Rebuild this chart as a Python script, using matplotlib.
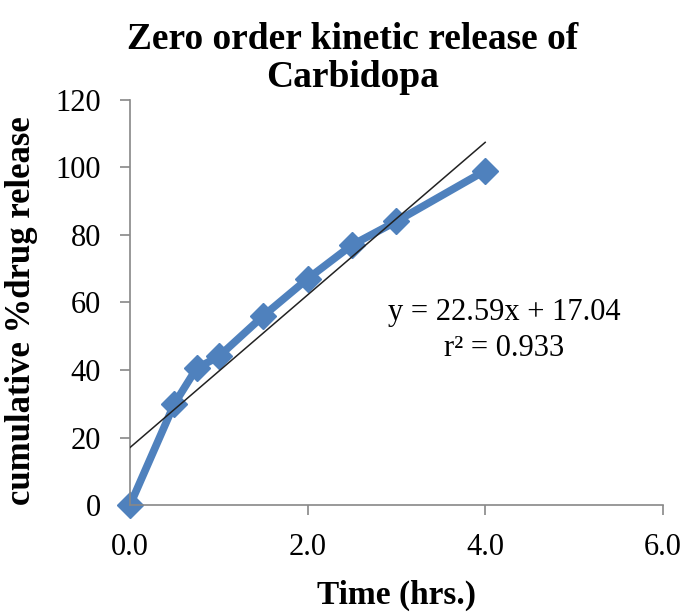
import matplotlib.pyplot as plt
import numpy as np

time_hrs = [0, 0.5, 0.75, 1.0, 1.5, 2.0, 2.5, 3.0, 4.0]
release = [0, 30, 40.5, 44, 56, 67, 77, 84, 99]
slope = 22.59
intercept = 17.04
r_squared = 0.933
x_ticks = [0, 2, 4, 6]
y_ticks = [0, 20, 40, 60, 80, 100, 120]

plt.rcParams["font.family"] = ["Liberation Serif", "DejaVu Serif"]

fig = plt.figure(figsize=(6.84, 6.16), dpi=100)
ax = fig.add_axes([0.19, 0.18, 0.779, 0.658])

ax.plot(time_hrs, release, color="#4F81BD", lw=5.5, marker="D", ms=13,
        markeredgecolor="#4F81BD", zorder=2, clip_on=False)

# linear trendline over the sampled range
fit_x = np.array([0, max(time_hrs)])
ax.plot(fit_x, slope * fit_x + intercept, color="#222222", lw=1.1, zorder=3)

ax.text(4.21, 57, f"y = {slope}x + {intercept}", fontsize=22, ha="center", va="center")
ax.text(4.21, 46.5, f"r² = {r_squared}", fontsize=22, ha="center", va="center")

ax.set_xlim(0, 6)
ax.set_ylim(0, 120)
ax.set_xticks(x_ticks)
ax.set_xticklabels([f"{t:.1f}" for t in x_ticks])
ax.set_yticks(y_ticks)
ax.tick_params(labelsize=22, color="#888888", length=7, width=1.2)
ax.tick_params(axis="x", pad=13)
ax.tick_params(axis="y", pad=14)

for side in ["top", "right"]:
    ax.spines[side].set_visible(False)
for side in ["left", "bottom"]:
    ax.spines[side].set_color("#888888")
    ax.spines[side].set_linewidth(1.2)

ax.set_xlabel("Time (hrs.)", fontsize=24, fontweight="bold", labelpad=13)
ax.set_ylabel("cumulative %drug release", fontsize=25, fontweight="bold")
ax.yaxis.set_label_coords(-0.172, 0.48)
fig.text(0.515, 0.905, "Zero order kinetic release of\nCarbidopa", fontsize=27,
         fontweight="bold", ha="center", va="center", linespacing=1.1)

fig.savefig("out.png", dpi=100)
